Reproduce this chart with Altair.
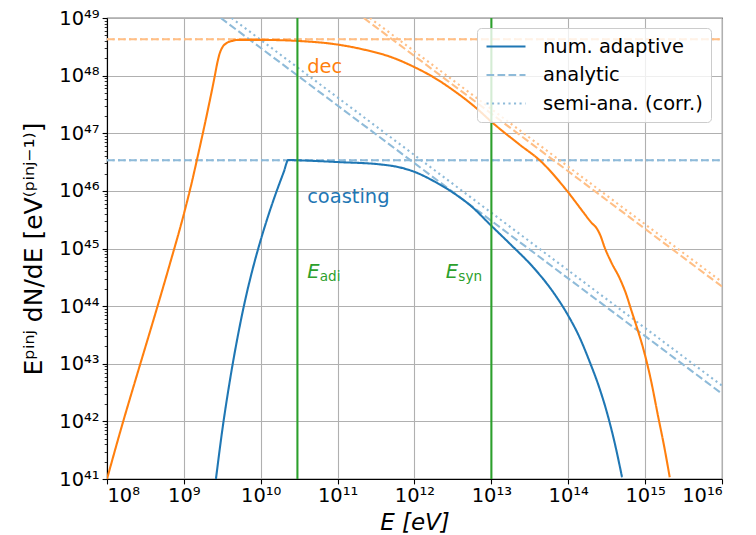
import altair as alt
import pandas as pd

# ---- data (log10 values) ----
# "coasting" numerical adaptive solution
coast_logE = [9.417, 9.5, 9.6, 9.7, 9.8, 9.9, 10.0, 10.1, 10.2, 10.3, 10.358, 10.5, 11.0, 11.55,
              11.8, 12.0, 12.25, 12.5, 12.75, 12.98, 13.25, 13.54, 13.8, 13.98, 14.15, 14.28,
              14.4, 14.5, 14.6, 14.7]
coast_logN = [41.0, 41.85, 42.72, 43.47, 44.12, 44.67, 45.15, 45.58, 45.97, 46.33, 46.535, 46.53,
              46.5, 46.46, 46.41, 46.33, 46.17, 45.97, 45.72, 45.42, 45.07, 44.68, 44.25, 43.88,
              43.45, 43.03, 42.6, 42.17, 41.65, 41.03]
# "dec" numerical adaptive solution
dec_logE = [8.0, 8.2, 8.4, 8.6, 8.8, 9.0, 9.1, 9.17, 9.25, 9.33, 9.40, 9.43, 9.46, 9.5, 9.55,
            9.62, 9.7, 10.0, 10.51, 10.94, 11.38, 11.7, 11.98, 12.25, 12.5, 12.81, 13.0, 13.37,
            13.63, 13.978, 14.19, 14.30, 14.37, 14.42, 14.47, 14.56, 14.67, 14.75, 14.82,
            14.9, 14.97, 15.07, 15.17, 15.25, 15.32]
dec_logN = [41.0, 41.95, 42.85, 43.74, 44.65, 45.6, 46.13, 46.54, 47.02, 47.52, 47.98, 48.19,
            48.36, 48.49, 48.56, 48.6, 48.62, 48.62, 48.6, 48.55, 48.44, 48.32, 48.16, 47.97,
            47.75, 47.43, 47.2, 46.8, 46.53, 46.01, 45.64, 45.45, 45.35, 45.22, 45.03, 44.76,
            44.48, 44.22, 43.93, 43.6, 43.29, 42.75, 42.08, 41.55, 41.03]
# analytic / semi-analytic asymptotes
coast_flat_logN = 46.53
dec_flat_logN = 48.63
flat_logE = [8.0, 16.0]
coast_ana_logE = [9.48, 16.0]
coast_ana_logN = [49.0, 42.48]
coast_semi_logE = [9.62, 16.0]
coast_semi_logN = [49.0, 42.62]
dec_ana_logE = [11.34, 16.0]
dec_ana_logN = [49.0, 44.34]
dec_semi_logE = [11.42, 16.0]
dec_semi_logN = [49.0, 44.42]

# characteristic energies
vline_logE = [10.477, 13.0]

# annotations
label_texts = ["dec", "coasting"]
label_colors = ["#ff7f0e", "#1f77b4"]
label_logE = [10.604, 10.604]
label_logN = [48.04, 45.79]
e_logE = [10.604, 12.408]
e_logN = [44.486, 44.486]
e_subs = ["adi", "syn"]

keys = ["num. adaptive", "analytic", "semi-ana. (corr.)", "dec num", "dec analytic", "dec semi"]
key_colors = ["#1f77b4", "#8fbbd9", "#8fbbd9", "#ff7f0e", "#ffbf86", "#ffbf86"]
key_dashes = [[1, 0], [7.7, 3.3], [2.1, 3.4], [1, 0], [7.7, 3.3], [2.1, 3.4]]

rows = []
def add(key, seg, lx, ly):
    for a, b in zip(lx, ly):
        rows.append({"E": 10.0 ** a, "N": 10.0 ** b, "key": key, "seg": seg})

add("analytic", "c_ana_flat", flat_logE, [coast_flat_logN] * 2)
add("semi-ana. (corr.)", "c_semi_flat", flat_logE, [coast_flat_logN] * 2)
add("analytic", "c_ana_diag", coast_ana_logE, coast_ana_logN)
add("semi-ana. (corr.)", "c_semi_diag", coast_semi_logE, coast_semi_logN)
add("dec analytic", "d_ana_flat", flat_logE, [dec_flat_logN] * 2)
add("dec semi", "d_semi_flat", flat_logE, [dec_flat_logN] * 2)
add("dec analytic", "d_ana_diag", dec_ana_logE, dec_ana_logN)
add("dec semi", "d_semi_diag", dec_semi_logE, dec_semi_logN)
add("num. adaptive", "c_num", coast_logE, coast_logN)
add("dec num", "d_num", dec_logE, dec_logN)
df = pd.DataFrame(rows)

df_v = pd.DataFrame({"E": [10.0 ** v for v in vline_logE]})
df_lab = pd.DataFrame({"E": [10.0 ** v for v in label_logE], "N": [10.0 ** v for v in label_logN],
                       "t": label_texts, "c": label_colors})
df_e = pd.DataFrame({"E": [10.0 ** v for v in e_logE], "N": [10.0 ** v for v in e_logN],
                     "sub": e_subs})

FONT = "DejaVu Sans"
FS = 19.44
sup = "['⁰','¹','²','³','⁴','⁵','⁶','⁷','⁸','⁹']"
ex = "round(log(datum.value)/LN10)"
label_expr = f"'10' + ({ex} >= 10 ? {sup}[floor({ex}/10)] : '') + {sup}[{ex} % 10]"

xscale = alt.Scale(type="log", domain=[1e8, 1e16], nice=False)
yscale = alt.Scale(type="log", domain=[1e41, 1e49], nice=False)

x_axis = alt.Axis(values=[10.0 ** k for k in range(8, 17)], labelExpr=label_expr,
                  title="E  [eV]", titleFontStyle="italic", titleY=50, titleFontSize=23,
                  titleBaseline="alphabetic", tickSize=4.9, labelPadding=3, grid=True)
y_axis = alt.Axis(values=[10.0 ** k for k in range(41, 50)], labelExpr=label_expr,
                  title="Eᵖⁱⁿʲ dN/dE  [eV⁽ᵖⁱⁿʲ⁻¹⁾]", titleX=-66, titleY=230.5,
                  titleAngle=270, titleBaseline="alphabetic", titleAlign="center",
                  titleFontSize=25, tickSize=4.9, labelPadding=3, grid=True, orient="left")

leg = alt.Legend(title=None, values=keys[:3], orient="none", legendX=370, legendY=10,
                 symbolType="stroke", symbolSize=1521, symbolStrokeWidth=2.08,
                 labelFontSize=FS, labelFont=FONT, labelColor="black", labelOffset=16,
                 clipHeight=21, rowPadding=7.5, padding=8, cornerRadius=4,
                 strokeColor="#cccccc", fillColor="rgba(255,255,255,0.8)", labelLimit=400)

X = alt.X("E:Q", scale=xscale, axis=x_axis)

lines = alt.Chart(df).mark_line(strokeWidth=2.08, interpolate="monotone", clip=True).encode(
    x=X,
    y=alt.Y("N:Q", scale=yscale, axis=y_axis),
    detail="seg:N",
    color=alt.Color("key:N", scale=alt.Scale(domain=keys, range=key_colors), legend=leg),
    strokeDash=alt.StrokeDash("key:N", scale=alt.Scale(domain=keys, range=key_dashes), legend=leg),
    order=alt.Order("E:Q"),
)

vlines = alt.Chart(df_v).mark_rule(color="#2ca02c", strokeWidth=2.08).encode(x=X)

labels = alt.Chart(df_lab).mark_text(align="left", baseline="alphabetic", font=FONT,
                                     fontSize=FS).encode(
    x=X, y=alt.Y("N:Q", scale=yscale, axis=None),
    text="t:N", color=alt.Color("c:N", scale=None))

e_text = alt.Chart(df_e).mark_text(align="left", baseline="alphabetic", font=FONT,
                                   fontSize=FS, fontStyle="italic", color="#2ca02c", text="E").encode(
    x=X, y=alt.Y("N:Q", scale=yscale, axis=None))
e_sub = alt.Chart(df_e).mark_text(align="left", baseline="alphabetic", font=FONT,
                                  fontSize=13.6, color="#2ca02c", dx=12.5, dy=3).encode(
    x=X, y=alt.Y("N:Q", scale=yscale, axis=None), text="sub:N")

minor_vals = [k * 10.0 ** n for n in range(41, 49) for k in range(2, 10)]
minor = alt.Chart(df).mark_point(opacity=0).encode(
    x=X,
    y=alt.Y("N:Q", scale=yscale, axis=alt.Axis(values=minor_vals, labels=False, grid=False,
                                               domain=False, tickSize=2.8, tickWidth=0.8,
                                               title=None, orient="left")))

chart = alt.layer(lines, vlines, labels, e_text, e_sub, minor).resolve_axis(
    y="independent").properties(
    width=615, height=461,
    autosize=alt.AutoSizeParams(type="none"),
    padding={"left": 107, "top": 18, "right": 34, "bottom": 56},
    background="white",
).configure_axis(
    labelFont=FONT, labelFontSize=FS, labelColor="black", tickColor="black",
    domainColor="black", domainWidth=1.1, tickWidth=1.1, gridColor="#b0b0b0", gridWidth=1.1,
    titleFont=FONT, titleFontSize=24, titleColor="black", titleFontWeight="normal",
).configure_view(stroke="black", strokeWidth=1.1)

chart.save("out.html", embed_options={"renderer": "svg", "actions": False})
